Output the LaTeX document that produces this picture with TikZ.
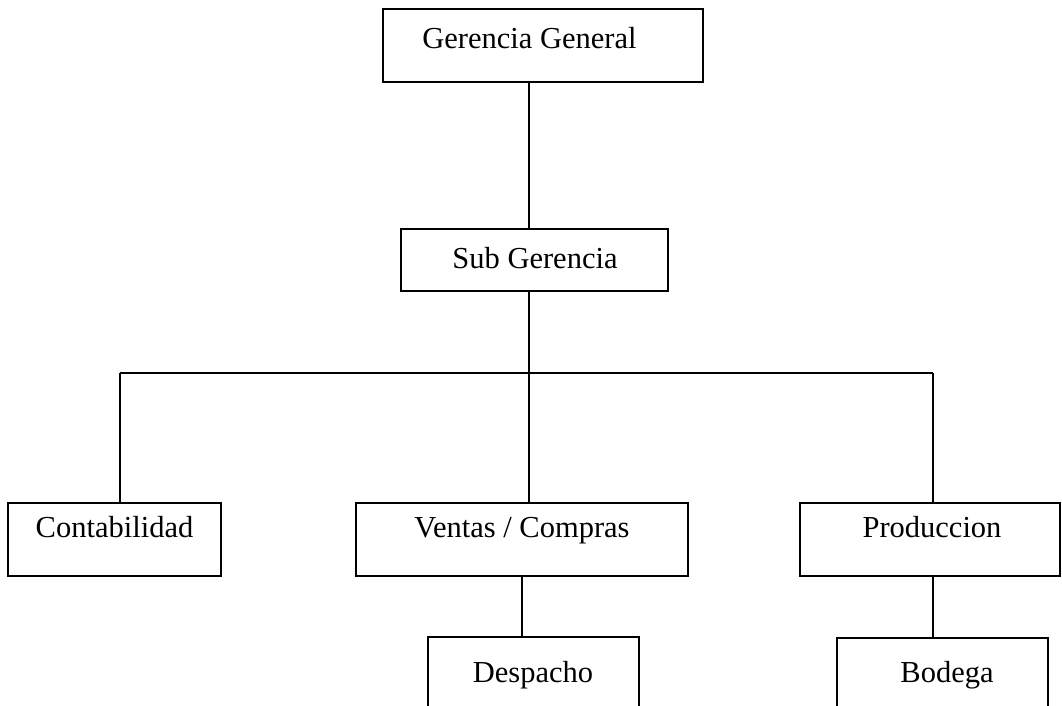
\documentclass[tikz,border=0pt]{standalone}
\usepackage{fontspec}
\setmainfont{Liberation Serif}
\tikzset{
  box/.style={draw=black, line width=1.3pt, rectangle, inner sep=0pt},
  lbl/.style={inner sep=0pt, text height=21pt, text depth=7pt, font=\fontsize{30.5}{36}\selectfont},
  conn/.style={draw=black, line width=1.3pt}
}
\begin{document}
\begin{tikzpicture}[x=1pt,y=1pt]
\path[use as bounding box, clip] (0,0) rectangle (1062,-706);
\fill[white] (0,0) rectangle (1062,-706);
% boxes
\node[box, minimum width=320, minimum height=73,
  label={[lbl, shift={(-13.5,3.5)}]center:Gerencia General}] (gg) at (543,-45.5) {};
\node[box, minimum width=267, minimum height=62,
  label={[lbl, shift={(0.5,-1.5)}]center:Sub Gerencia}] (sg) at (534.5,-260) {};
\node[box, minimum width=213, minimum height=73,
  label={[lbl, shift={(0,9.5)}]center:Contabilidad}] (cont) at (114.5,-539.5) {};
\node[box, minimum width=332, minimum height=73,
  label={[lbl, shift={(0,9.5)}]center:Ventas / Compras}] (vent) at (522,-539.5) {};
\node[box, minimum width=260, minimum height=73,
  label={[lbl, shift={(2,9.5)}]center:Produccion}] (prod) at (930,-539.5) {};
\node[box, minimum width=211, minimum height=100,
  label={[lbl, shift={(-0.5,12)}]center:Despacho}] (desp) at (533.5,-687) {};
\node[box, minimum width=211, minimum height=100,
  label={[lbl, shift={(4.5,13)}]center:Bodega}] (bod) at (942.5,-688) {};
% junctions
\coordinate (j) at (529,-373);
\coordinate (bl) at (120,-373);
\coordinate (br) at (933,-373);
% connectors
\draw[conn] (j |- gg.south) -- (j |- sg.north);
\draw[conn] (j |- sg.south) -- (j);
\draw[conn] (bl) -- (br);
\draw[conn] (bl) -- (bl |- cont.north);
\draw[conn] (j) -- (j |- vent.north);
\draw[conn] (br) -- (br |- prod.north);
\draw[conn] (vent.south) -- (vent.south |- desp.north);
\draw[conn] (br |- prod.south) -- (br |- bod.north);
\end{tikzpicture}
\end{document}
